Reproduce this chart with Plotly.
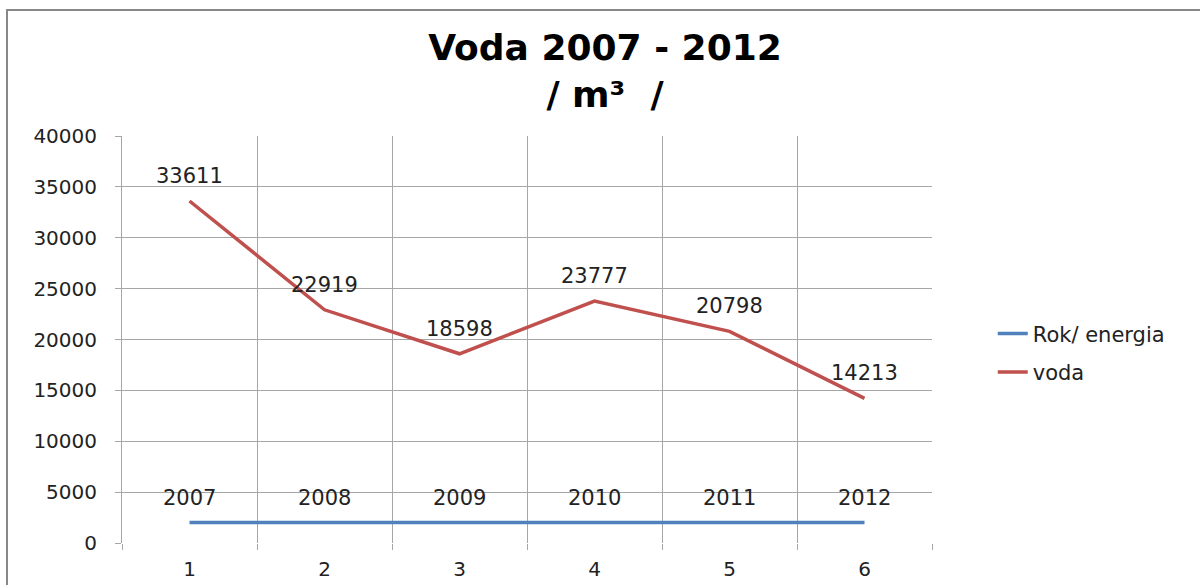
import plotly.graph_objects as go

categories = [1, 2, 3, 4, 5, 6]
rok_energia = [2007, 2008, 2009, 2010, 2011, 2012]
voda = [33611, 22919, 18598, 23777, 20798, 14213]
y_ticks = [0, 5000, 10000, 15000, 20000, 25000, 30000, 35000, 40000]

FONT = "DejaVu Sans"
GRID = "#a6a6a6"
TXT = "#222222"

fig = go.Figure()
fig.add_trace(go.Scatter(x=categories, y=rok_energia, mode="lines", name="Rok/ energia",
                         legendgroup="a", line=dict(color="#4F81BD", width=3.5)))
fig.add_trace(go.Scatter(x=categories, y=voda, mode="lines", name="voda",
                         legendgroup="b", line=dict(color="#C0504D", width=3.5)))

for xs, ys in ((categories, rok_energia), (categories, voda)):
    for x, y in zip(xs, ys):
        fig.add_annotation(x=x, y=y, text=str(y), showarrow=False, yshift=25,
                           font=dict(family=FONT, size=21, color=TXT))

# outer chart frame
fig.add_shape(type="rect", xref="paper", yref="paper",
              x0=(7 - 122) / 810, x1=(1205 - 122) / 810,
              y0=(543 - 600) / 407, y1=(543 - 10) / 407,
              line=dict(color="#888888", width=2), layer="below")

fig.update_layout(
    width=1200, height=585,
    margin=dict(l=122, r=268, t=136, b=42),
    paper_bgcolor="white", plot_bgcolor="white",
    font=dict(family=FONT, size=20, color=TXT),
    title=dict(text="Voda 2007 - 2012<br>/ m³  /", x=605 / 1200, xanchor="center",
               xref="container", yref="container", y=1 - 60 / 585, yanchor="top",
               font=dict(family=FONT, size=36, color="black", weight="bold")),
    legend=dict(x=1.075, y=0.467, xanchor="left", yanchor="middle",
                font=dict(family=FONT, size=21, color=TXT), tracegroupgap=8),
    showlegend=True,
)
fig.update_xaxes(range=[0.5, 6.5], tickmode="array", tickvals=categories,
                 ticktext=[str(c) for c in categories], showgrid=False, ticks="",
                 ticklabelstandoff=12, showline=False, zeroline=False,
                 tickfont=dict(size=20), automargin=False,
                 minor=dict(tick0=0.5, dtick=1, showgrid=True, gridcolor=GRID, gridwidth=1,
                            ticks="outside", ticklen=6, tickcolor=GRID))
fig.update_yaxes(range=[0, 40000], tickmode="array", tickvals=y_ticks,
                 ticktext=[str(v) for v in y_ticks], showgrid=True, gridcolor=GRID,
                 gridwidth=1, ticks="outside", ticklen=6, tickcolor=GRID,
                 ticklabelstandoff=14, showline=True, linecolor=GRID, linewidth=1,
                 zeroline=False, tickfont=dict(size=20), automargin=False)

fig.write_html("out.html", config={"displayModeBar": False},
               post_script="document.body.style.margin='0px';")
